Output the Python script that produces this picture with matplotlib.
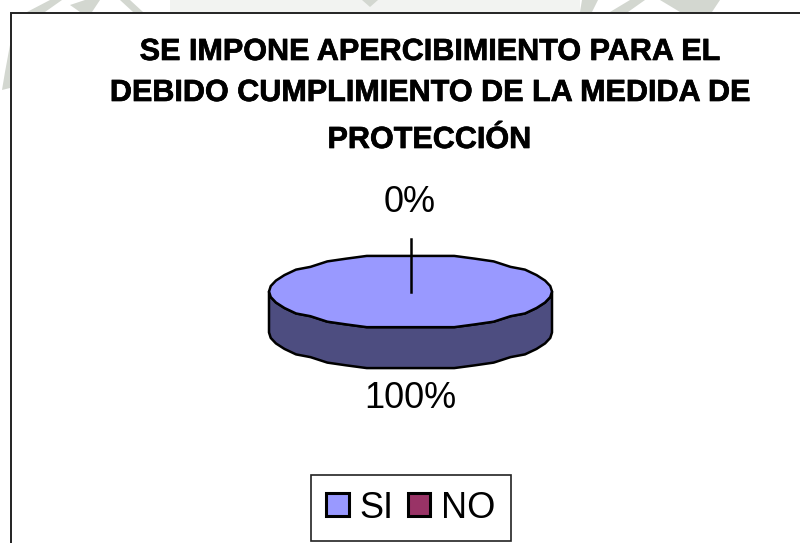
import numpy as np
import matplotlib
matplotlib.use("Agg")
import matplotlib.pyplot as plt
import matplotlib.patheffects as pe
from matplotlib.patches import Polygon, Rectangle

plt.rcParams['font.family'] = ['Liberation Sans', 'DejaVu Sans']

# data
categories = ['SI', 'NO']
shares = [100, 0]
share_labels = ['100%', '0%']
title_lines = ['SE IMPONE APERCIBIMIENTO PARA EL',
               'DEBIDO CUMPLIMIENTO DE LA MEDIDA DE',
               'PROTECCIÓN']

top_colors = ['#9999ff', '#993366']
side_color = '#4d4d80'
W, H = 800, 543

fig = plt.figure(figsize=(W / 100, H / 100), dpi=100, facecolor='white')
ax = fig.add_axes([0, 0, 1, 1])
ax.set_xlim(0, W)
ax.set_ylim(H, 0)
ax.axis('off')

# faint watermark behind the chart, only the margins show
ax.add_patch(Rectangle((170, 0), 410, 12, fc='#f2f3f1', ec='none'))
grey = '#d3d7d0'
for pts in [[(27, 12), (50, 0), (62, 0), (45, 12)],
            [(70, 5), (85, 0), (100, 0), (92, 12), (80, 12)],
            [(120, 0), (130, 0), (143, 12), (133, 12)],
            [(362, 0), (378, 0), (370, 7)],
            [(582, 0), (598, 0), (592, 12), (580, 12)],
            [(610, 12), (630, 0), (645, 0), (628, 12)],
            [(660, 0), (720, 0), (712, 12), (680, 12)],
            [(2, 90), (5, 72), (10, 45), (10, 88)]]:
    ax.add_patch(Polygon(pts, fc=grey, ec='none'))

# chart area
ax.add_patch(Rectangle((10.5, 12.5), W, H, fc='white', ec='#222222', lw=1.4))

y_title = [52, 93, 140]
for line, y in zip(title_lines, y_title):
    ax.text(429, y, line, ha='center', va='center', fontsize=22, fontweight='bold',
            color='black', path_effects=[pe.withStroke(linewidth=0.5, foreground='black')])

# pie in its own axes: unit radius, squashed by the axes shape
depth = 1.12
ax_pie = fig.add_axes([269 / W, (H - 369) / H, 283 / W, 114 / H])
ax_pie.set_xlim(-1, 1)
ax_pie.set_ylim(-1 - depth, 1)
ax_pie.axis('off')

n_seg = 40
step = 0.075  # outline is stepped in the original
ang = np.linspace(0, 2 * np.pi, n_seg + 1)[:-1]
x_top, y_top = np.cos(ang), np.round(np.sin(ang) / step) * step

ang_f = np.linspace(np.pi, 2 * np.pi, n_seg // 2 + 1)
x_f, y_f = np.cos(ang_f), np.round(np.sin(ang_f) / step) * step
wall = np.column_stack([np.r_[x_f, x_f[::-1]],
                        np.r_[y_f, y_f[::-1] - depth]])
ax_pie.add_patch(Polygon(wall, fc=side_color, ec='black', lw=1.8, joinstyle='round', clip_on=False))
ax_pie.add_patch(Polygon(np.column_stack([x_top, y_top]), fc=top_colors[0], ec='black',
                         lw=1.8, joinstyle='round', clip_on=False))

# leader for the empty slice, at the slice boundary
boundary = np.pi / 2 - 2 * np.pi * shares[0] / sum(shares)
lead_x = np.round(1.45 * np.cos(boundary), 6)
lead_y = np.round(1.45 * np.sin(boundary), 6)
ax_pie.plot([lead_x * 0, lead_x], [0, lead_y], color='black', lw=1.8, clip_on=False, snap=True)

ax.text(410, 399, share_labels[0], ha='center', va='center', fontsize=26)
ax.text(410, 203, share_labels[1], ha='center', va='center', fontsize=26)

# legend
handles = [Rectangle((0, 0), 1, 1, fc=c, ec='black', lw=2.2) for c in top_colors]
leg = ax.legend(handles, categories, loc='center', bbox_to_anchor=(411, 508),
                bbox_transform=ax.transData, ncol=2, fontsize=26, frameon=True,
                fancybox=False, edgecolor='#222222', framealpha=1,
                handlelength=0.62, handleheight=0.62, handletextpad=0.3,
                columnspacing=0.4, borderpad=0.42, borderaxespad=0)
leg.get_frame().set_linewidth(1.2)

fig.savefig('out.png', dpi=100)
